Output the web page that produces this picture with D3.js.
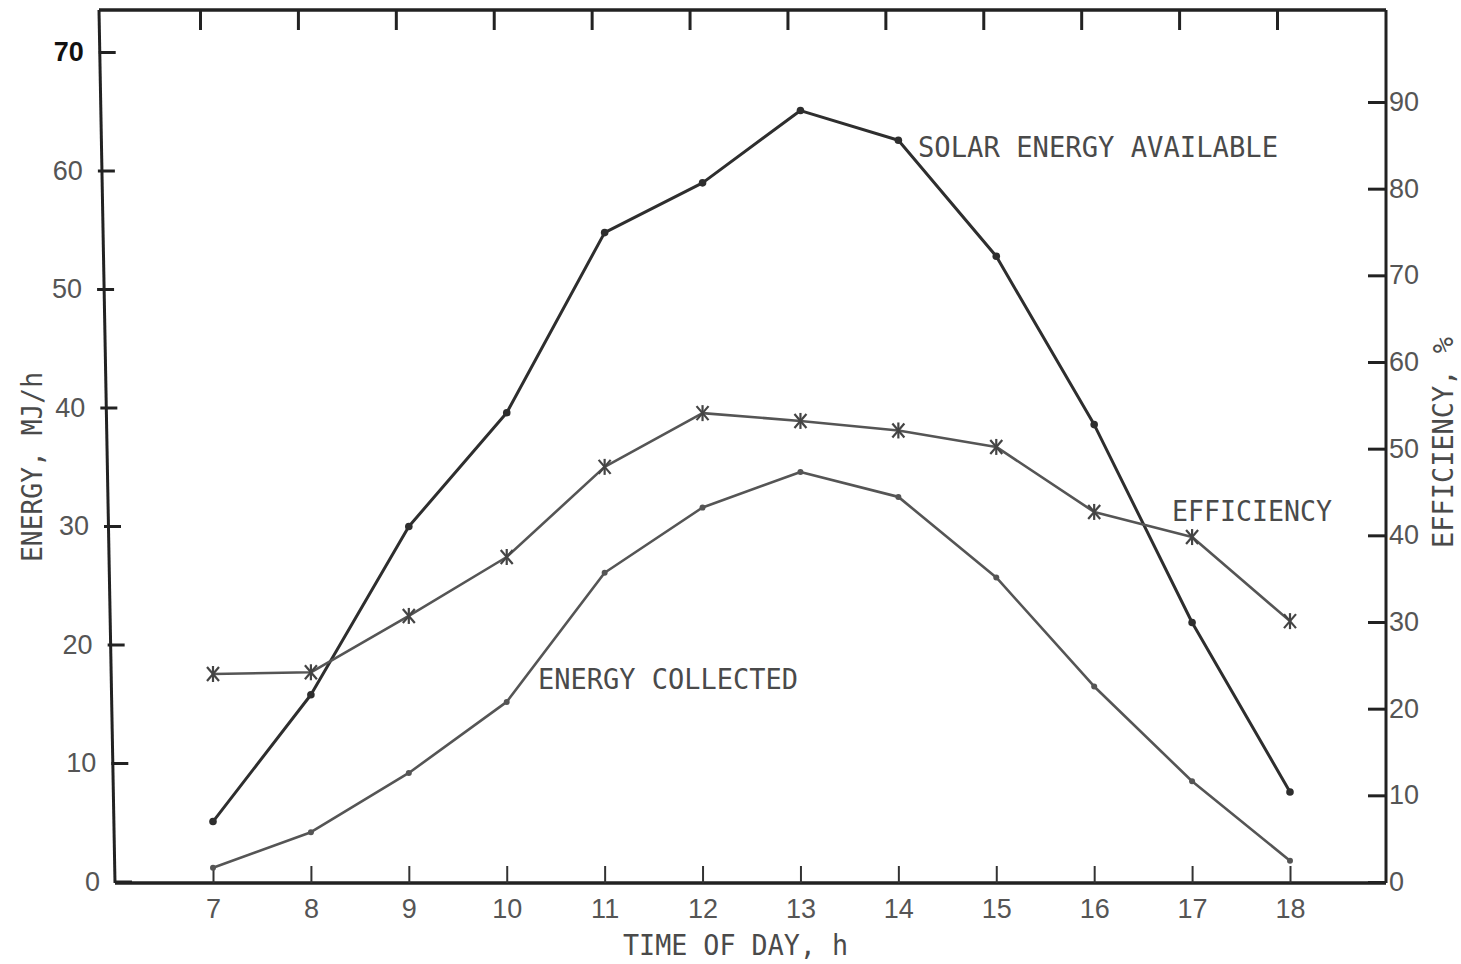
<!DOCTYPE html>
<html>
<head>
<meta charset="utf-8">
<script src="https://cdn.jsdelivr.net/npm/d3@7"></script>
<style>
  html, body { margin: 0; padding: 0; background: #fff; }
  svg { display: block; }
  .tick text { font-family: "Liberation Sans", Arial, sans-serif; fill: #555; }
  .mono { font-family: "DejaVu Sans Mono", "Liberation Mono", monospace; fill: #4a4a4a; }
</style>
</head>
<body>
<div id="graph"></div>
<script>
// hours of the day (x)
const hours = [7, 8, 9, 10, 11, 12, 13, 14, 15, 16, 17, 18];
// MJ/h, left axis
const solarAvailable = [5.1, 15.8, 30.0, 39.6, 54.8, 59.0, 65.1, 62.6, 52.8, 38.6, 21.9, 7.6];
const energyCollected = [1.2, 4.2, 9.2, 15.2, 26.1, 31.6, 34.6, 32.5, 25.7, 16.5, 8.5, 1.8];
// %, right axis
const efficiency = [24.0, 24.2, 30.7, 37.5, 47.9, 54.1, 53.2, 52.1, 50.2, 42.7, 39.8, 30.1];

const energyTicks = [0, 10, 20, 30, 40, 50, 60, 70];
const efficiencyTicks = [0, 10, 20, 30, 40, 50, 60, 70, 80, 90];

const W = 1461, H = 964;
const frameTop = 10, frameBottom = 883, frameRight = 1386;
// the left edge of the scanned frame is not quite vertical
const leftX = d3.scaleLinear().domain([10, 300, 883]).range([99, 97, 115]);

const x = d3.scaleLinear().domain([7, 18]).range([213, 1290]);
const yL = d3.scaleLinear().domain([0, 70]).range([882, 52.5]);
const yR = d3.scaleLinear().domain([0, 90]).range([882, 102]);

const svg = d3.select("#graph").append("svg")
  .attr("width", W).attr("height", H);

// frame
const frame = svg.append("g").attr("stroke", "#222").attr("fill", "none");
frame.append("line").attr("x1", leftX(frameTop)).attr("y1", frameTop).attr("x2", frameRight).attr("y2", frameTop).attr("stroke-width", 3.5);
frame.append("line").attr("x1", frameRight).attr("y1", frameTop).attr("x2", frameRight).attr("y2", frameBottom).attr("stroke-width", 3);
frame.append("line").attr("x1", leftX(frameBottom)).attr("y1", frameBottom).attr("x2", frameRight).attr("y2", frameBottom).attr("stroke-width", 3.5);
frame.append("line").attr("x1", leftX(frameTop)).attr("y1", frameTop).attr("x2", leftX(frameBottom)).attr("y2", frameBottom).attr("stroke-width", 3);

// left axis
const gL = svg.append("g")
  .call(d3.axisLeft(yL).tickValues(energyTicks).tickSize(-17).tickPadding(15));
gL.select(".domain").remove();
gL.selectAll(".tick").attr("transform", d => `translate(${leftX(yL(d))},${yL(d)})`);
gL.selectAll(".tick line").attr("stroke", "#222").attr("stroke-width", 3);
gL.selectAll(".tick text").attr("font-size", 27)
  .style("fill", d => d === 70 ? "#111" : "#555")
  .attr("font-weight", d => d === 70 ? "bold" : "normal");

// right axis
const gR = svg.append("g").attr("transform", `translate(${frameRight},0)`)
  .call(d3.axisRight(yR).tickValues(efficiencyTicks).tickSize(-18).tickPadding(3));
gR.select(".domain").remove();
gR.selectAll(".tick line").attr("stroke", "#222").attr("stroke-width", 3);
gR.selectAll(".tick text").attr("font-size", 27);

// bottom axis
const gB = svg.append("g").attr("transform", `translate(0,${frameBottom})`)
  .call(d3.axisBottom(x).tickValues(hours).tickFormat(d3.format("d")).tickSize(-17).tickPadding(16));
gB.select(".domain").remove();
gB.selectAll(".tick line").attr("stroke", "#333").attr("stroke-width", 2);
gB.selectAll(".tick text").attr("font-size", 27);

// top ticks (drawn a little left of the bottom ones in the original)
const gT = svg.append("g").attr("transform", `translate(-13,${frameTop})`)
  .call(d3.axisTop(x).tickValues(hours).tickFormat("").tickSize(-20));
gT.select(".domain").remove();
gT.selectAll(".tick line").attr("stroke", "#222").attr("stroke-width", 3);

// series
const lineL = d3.line().x((d, i) => x(hours[i])).y(d => yL(d));
const lineR = d3.line().x((d, i) => x(hours[i])).y(d => yR(d));

svg.append("path").datum(solarAvailable)
  .attr("fill", "none").attr("stroke", "#2e2e2e").attr("stroke-width", 3)
  .attr("stroke-linejoin", "round").attr("d", lineL);
svg.append("g").selectAll("circle").data(solarAvailable).join("circle")
  .attr("cx", (d, i) => x(hours[i])).attr("cy", d => yL(d)).attr("r", 3.8).attr("fill", "#2e2e2e");

svg.append("path").datum(energyCollected)
  .attr("fill", "none").attr("stroke", "#555").attr("stroke-width", 2.6)
  .attr("stroke-linejoin", "round").attr("d", lineL);
svg.append("g").selectAll("circle").data(energyCollected).join("circle")
  .attr("cx", (d, i) => x(hours[i])).attr("cy", d => yL(d)).attr("r", 3).attr("fill", "#555");

svg.append("path").datum(efficiency)
  .attr("fill", "none").attr("stroke", "#555").attr("stroke-width", 2.6)
  .attr("stroke-linejoin", "round").attr("d", lineR);
const stars = svg.append("g").attr("stroke", "#444").attr("stroke-width", 2.2).selectAll("g")
  .data(efficiency).join("g")
  .attr("transform", (d, i) => `translate(${x(hours[i])},${yR(d)})`);
stars.append("line").attr("x1", 0).attr("y1", -8).attr("x2", 0).attr("y2", 8);
stars.append("line").attr("x1", -6).attr("y1", -7).attr("x2", 6).attr("y2", 7);
stars.append("line").attr("x1", -6).attr("y1", 7).attr("x2", 6).attr("y2", -7);

// labels
function mono(txt, px, py, len, rot) {
  svg.append("text").attr("class", "mono")
    .attr("transform", `translate(${px},${py})` + (rot ? ` rotate(${rot})` : ""))
    .attr("font-size", 29)
    .attr("textLength", len).attr("lengthAdjust", "spacingAndGlyphs")
    .text(txt);
}
mono("SOLAR ENERGY AVAILABLE", 918, 157, 360);
mono("EFFICIENCY", 1172, 521, 160);
mono("ENERGY COLLECTED", 538, 689, 260);
mono("TIME OF DAY, h", 623, 955, 225);
mono("ENERGY, MJ/h", 42, 562, 190, -90);
mono("EFFICIENCY, %", 1453, 548, 211, -90);
</script>
</body>
</html>
